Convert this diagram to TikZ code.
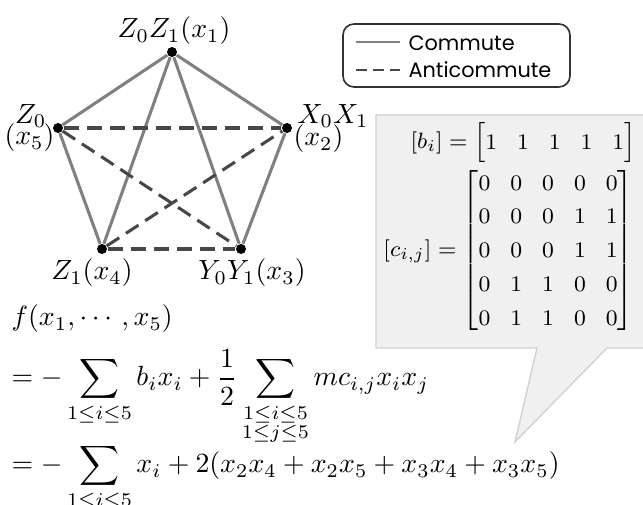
\documentclass[tikz,border=0pt]{standalone}
\usepackage{amsmath}
\usepackage{fontspec}
\newfontfamily\legendfont{Poppins}
\begin{document}
\begin{tikzpicture}[x=0.36pt,y=-0.36pt,
  vtx/.style={circle,fill=black,inner sep=0pt,minimum size=3.6pt},
  comm/.style={draw=black!50,line width=1.1pt},
  anti/.style={draw=black!72,line width=1.1pt,dash pattern=on 5.4pt off 2.9pt},
  lbl/.style={inner sep=0pt},
  mat/.style={inner sep=0pt,anchor=east,font=\fontsize{8.5}{10.4}\selectfont},
  legtext/.style={inner sep=0pt,anchor=west,font=\legendfont\fontsize{7.5}{9}\selectfont}]
\useasboundingbox (0,0) rectangle (643,505);
% callout
\path[fill=black!6,draw=black!18,line width=0.5pt]
  (376,115) -- (660,115) -- (660,348) -- (607,348) -- (515,442) -- (537,348) -- (376,348) -- cycle;
\node[mat] (bvec) at (636,143) {\setlength{\arraycolsep}{3.6pt}\renewcommand{\arraystretch}{1.1}$[b_i]=\begin{bmatrix}1&1&1&1&1\end{bmatrix}$};
\node[mat] (cmat) at (634,251) {\setlength{\arraycolsep}{3.6pt}\renewcommand{\arraystretch}{1.17}$[c_{i,j}]=\begin{bmatrix}0&0&0&0&0\\0&0&0&1&1\\0&0&0&1&1\\0&1&1&0&0\\0&1&1&0&0\end{bmatrix}$};
% legend
\node[draw=black!80,line width=0.6pt,rounded corners=4pt,minimum width=227*0.36pt,minimum height=63*0.36pt,inner sep=0pt] (leg) at (456.5,55.5) {};
\coordinate (ca) at (356,42);
\coordinate (cb) at (400,42);
\coordinate (aa) at (356,70);
\coordinate (ab) at (400,70);
\draw[comm,line width=0.8pt] (ca) -- (cb);
\draw[anti,line width=0.8pt,dash pattern=on 3.9pt off 2.2pt] (aa) -- (ab);
\node[legtext] (lc) at (408,43) {Commute};
\node[legtext] (la) at (408,70) {Anticommute};
% graph
\node[vtx] (x1) at (172,52) {};
\node[vtx] (x2) at (287,128) {};
\node[vtx] (x3) at (241,249) {};
\node[vtx] (x4) at (102,249) {};
\node[vtx] (x5) at (58,128) {};
\draw[comm] (x1) -- (x2);
\draw[comm] (x1) -- (x3);
\draw[comm] (x1) -- (x4);
\draw[comm] (x1) -- (x5);
\draw[comm] (x2) -- (x3);
\draw[comm] (x4) -- (x5);
\draw[anti] (x5) -- (x2);
\draw[anti] (x5) -- (x3);
\draw[anti] (x4) -- (x2);
\draw[anti] (x4) -- (x3);
\node[lbl] (l1) at (174,31) {$Z_0Z_1(x_1)$};
\node[lbl,anchor=east] (l5a) at (47,116) {$Z_0$};
\node[lbl,anchor=east] (l5b) at (55,138) {$(x_5)$};
\node[lbl,anchor=west] (l2a) at (297,116) {$X_0X_1$};
\node[lbl,anchor=west] (l2b) at (293,139) {$(x_2)$};
\node[lbl] (l4) at (92,273) {$Z_1(x_4)$};
\node[lbl] (l3) at (252,273) {$Y_0Y_1(x_3)$};
% equations
\node[lbl,anchor=base west] (e1) at (11,326) {$f(x_1,\cdots,x_5)$};
\node[lbl,anchor=base west] (e2) at (11,386) {$\displaystyle =-\sum_{1\le i\le 5} b_ix_i+\frac{1}{2}\sum_{\substack{1\le i\le 5\\1\le j\le 5}} mc_{i,j}x_ix_j$};
\node[lbl,anchor=base west] (e3) at (11,473) {$\displaystyle =-\sum_{1\le i\le 5} x_i+2(x_2x_4+x_2x_5+x_3x_4+x_3x_5)$};
\end{tikzpicture}
\end{document}
